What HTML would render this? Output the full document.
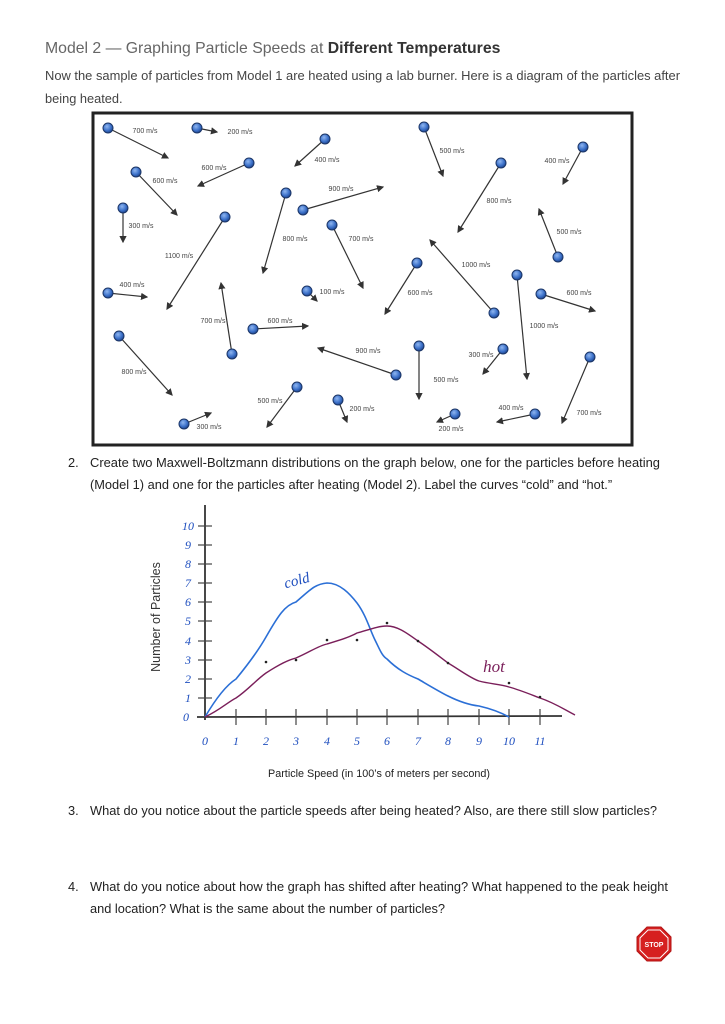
<!DOCTYPE html>
<html><head><meta charset="utf-8"><style>
body{margin:0;background:#fff;width:725px;height:1024px;overflow:hidden;font-family:"Liberation Sans",sans-serif;}
svg{position:absolute;left:0;top:0}
</style></head><body>
<svg width="725" height="1024" viewBox="0 0 725 1024" xmlns="http://www.w3.org/2000/svg" font-family="Liberation Sans, sans-serif">
<defs><marker id="ah" markerWidth="6" markerHeight="6" refX="5" refY="3" orient="auto"><path d="M0,0 L6,3 L0,6 z" fill="#333"/></marker>
<radialGradient id="ball" cx="0.4" cy="0.35" r="0.7"><stop offset="0" stop-color="#8fb6f0"/><stop offset="0.6" stop-color="#3a6fc8"/><stop offset="1" stop-color="#1b3d80"/></radialGradient></defs>
<text x="45" y="53" font-size="15.8" fill="#666">Model 2 — Graphing Particle Speeds at <tspan font-weight="bold" fill="#333">Different Temperatures</tspan></text>
<text x="45" y="80" font-size="12.8" fill="#444" textLength="635" lengthAdjust="spacingAndGlyphs">Now the sample of particles from Model 1 are heated using a lab burner. Here is a diagram of the particles after</text>
<text x="45" y="103" font-size="12.8" fill="#444">being heated.</text>
<rect x="93" y="113" width="539" height="332" fill="#fff" stroke="#222" stroke-width="3"/>
<g stroke="#333" stroke-width="1.2" marker-end="url(#ah)">
<line x1="108" y1="128" x2="168" y2="158"/><line x1="197" y1="128" x2="217" y2="132"/><line x1="325" y1="139" x2="295" y2="166"/><line x1="249" y1="163" x2="198" y2="186"/><line x1="136" y1="172" x2="177" y2="215"/><line x1="424" y1="127" x2="443" y2="176"/><line x1="583" y1="147" x2="563" y2="184"/><line x1="501" y1="163" x2="458" y2="232"/><line x1="123" y1="208" x2="123" y2="242"/><line x1="225" y1="217" x2="167" y2="309"/><line x1="286" y1="193" x2="263" y2="273"/><line x1="303" y1="210" x2="383" y2="187"/><line x1="332" y1="225" x2="363" y2="288"/><line x1="558" y1="257" x2="539" y2="209"/><line x1="494" y1="313" x2="430" y2="240"/><line x1="417" y1="263" x2="385" y2="314"/><line x1="108" y1="293" x2="147" y2="297"/><line x1="307" y1="291" x2="317" y2="301"/><line x1="517" y1="275" x2="527" y2="379"/><line x1="541" y1="294" x2="595" y2="311"/><line x1="232" y1="354" x2="221" y2="283"/><line x1="253" y1="329" x2="308" y2="326"/><line x1="119" y1="336" x2="172" y2="395"/><line x1="396" y1="375" x2="318" y2="348"/><line x1="419" y1="346" x2="419" y2="399"/><line x1="503" y1="349" x2="483" y2="374"/><line x1="590" y1="357" x2="562" y2="423"/><line x1="297" y1="387" x2="267" y2="427"/><line x1="338" y1="400" x2="347" y2="422"/><line x1="535" y1="414" x2="497" y2="422"/><line x1="455" y1="414" x2="437" y2="422"/><line x1="184" y1="424" x2="211" y2="413"/>
</g>
<g fill="url(#ball)" stroke="#1b3566" stroke-width="1">
<circle cx="108" cy="128" r="5"/><circle cx="197" cy="128" r="5"/><circle cx="325" cy="139" r="5"/><circle cx="249" cy="163" r="5"/><circle cx="136" cy="172" r="5"/><circle cx="424" cy="127" r="5"/><circle cx="583" cy="147" r="5"/><circle cx="501" cy="163" r="5"/><circle cx="123" cy="208" r="5"/><circle cx="225" cy="217" r="5"/><circle cx="286" cy="193" r="5"/><circle cx="303" cy="210" r="5"/><circle cx="332" cy="225" r="5"/><circle cx="558" cy="257" r="5"/><circle cx="494" cy="313" r="5"/><circle cx="417" cy="263" r="5"/><circle cx="108" cy="293" r="5"/><circle cx="307" cy="291" r="5"/><circle cx="517" cy="275" r="5"/><circle cx="541" cy="294" r="5"/><circle cx="232" cy="354" r="5"/><circle cx="253" cy="329" r="5"/><circle cx="119" cy="336" r="5"/><circle cx="396" cy="375" r="5"/><circle cx="419" cy="346" r="5"/><circle cx="503" cy="349" r="5"/><circle cx="590" cy="357" r="5"/><circle cx="297" cy="387" r="5"/><circle cx="338" cy="400" r="5"/><circle cx="535" cy="414" r="5"/><circle cx="455" cy="414" r="5"/><circle cx="184" cy="424" r="5"/>
</g>
<g font-size="7" fill="#444" text-anchor="middle">
<text x="145" y="133">700 m/s</text><text x="240" y="134">200 m/s</text><text x="327" y="162">400 m/s</text><text x="214" y="170">600 m/s</text><text x="165" y="183">600 m/s</text><text x="452" y="153">500 m/s</text><text x="557" y="163">400 m/s</text><text x="499" y="203">800 m/s</text><text x="141" y="228">300 m/s</text><text x="179" y="258">1100 m/s</text><text x="295" y="241">800 m/s</text><text x="341" y="191">900 m/s</text><text x="361" y="241">700 m/s</text><text x="569" y="234">500 m/s</text><text x="476" y="267">1000 m/s</text><text x="420" y="295">600 m/s</text><text x="132" y="287">400 m/s</text><text x="332" y="294">100 m/s</text><text x="544" y="328">1000 m/s</text><text x="579" y="295">600 m/s</text><text x="213" y="323">700 m/s</text><text x="280" y="323">600 m/s</text><text x="134" y="374">800 m/s</text><text x="368" y="353">900 m/s</text><text x="446" y="382">500 m/s</text><text x="481" y="357">300 m/s</text><text x="589" y="415">700 m/s</text><text x="270" y="403">500 m/s</text><text x="362" y="411">200 m/s</text><text x="511" y="410">400 m/s</text><text x="451" y="431">200 m/s</text><text x="209" y="429">300 m/s</text>
</g>
<text x="68" y="467" font-size="12.8" fill="#222">2.</text>
<text x="90" y="467" font-size="12.8" fill="#222" textLength="570" lengthAdjust="spacingAndGlyphs">Create two Maxwell-Boltzmann distributions on the graph below, one for the particles before heating</text>
<text x="90" y="489" font-size="12.8" fill="#222">(Model 1) and one for the particles after heating (Model 2). Label the curves “cold” and “hot.”</text>
<g stroke="#333" stroke-width="1.8"><line x1="205" y1="505" x2="205" y2="720"/><line x1="197" y1="717" x2="562" y2="716"/></g>
<g stroke="#444" stroke-width="1.2">
<line x1="236" y1="709" x2="236" y2="725"/><line x1="266" y1="709" x2="266" y2="725"/><line x1="296" y1="709" x2="296" y2="725"/><line x1="327" y1="709" x2="327" y2="725"/><line x1="357" y1="709" x2="357" y2="725"/><line x1="387" y1="709" x2="387" y2="725"/><line x1="418" y1="709" x2="418" y2="725"/><line x1="448" y1="709" x2="448" y2="725"/><line x1="479" y1="709" x2="479" y2="725"/><line x1="509" y1="709" x2="509" y2="725"/><line x1="540" y1="709" x2="540" y2="725"/>
<line x1="198" y1="698" x2="212" y2="698"/><line x1="198" y1="679" x2="212" y2="679"/><line x1="198" y1="660" x2="212" y2="660"/><line x1="198" y1="641" x2="212" y2="641"/><line x1="198" y1="621" x2="212" y2="621"/><line x1="198" y1="602" x2="212" y2="602"/><line x1="198" y1="583" x2="212" y2="583"/><line x1="198" y1="564" x2="212" y2="564"/><line x1="198" y1="545" x2="212" y2="545"/><line x1="198" y1="526" x2="212" y2="526"/>
</g>
<g font-size="12" fill="#1f4fbf" font-family="Liberation Serif, serif" font-style="italic" text-anchor="middle">
<text x="205" y="745">0</text><text x="236" y="745">1</text><text x="266" y="745">2</text><text x="296" y="745">3</text><text x="327" y="745">4</text><text x="357" y="745">5</text><text x="387" y="745">6</text><text x="418" y="745">7</text><text x="448" y="745">8</text><text x="479" y="745">9</text><text x="509" y="745">10</text><text x="540" y="745">11</text>
<text x="186" y="721">0</text><text x="188" y="702">1</text><text x="188" y="683">2</text><text x="188" y="664">3</text><text x="188" y="645">4</text><text x="188" y="625">5</text><text x="188" y="606">6</text><text x="188" y="587">7</text><text x="188" y="568">8</text><text x="188" y="549">9</text><text x="188" y="530">10</text>
<text x="298" y="585" font-size="15" transform="rotate(-15 298 585)">cold</text>
</g>
<text x="494" y="672" font-size="17" fill="#7a1f5a" font-family="Liberation Serif, serif" font-style="italic" text-anchor="middle">hot</text>
<path d="M205,717 C215,700 225,686 236,679 C250,662 258,651 266,637 C278,616 285,605 296,602 C310,590 315,584 327,583 C340,583 350,594 357,603 C366,615 370,630 375,640 C380,650 382,656 387,659 C398,670 408,675 418,679 C430,686 440,692 448,696 C460,702 470,705 479,706 C492,709 500,712 509,717" fill="none" stroke="#2b6fd6" stroke-width="1.6"/>
<path d="M205,717 C220,710 228,702 236,698 C248,690 256,680 266,673 C280,664 288,660 296,658 C310,652 318,646 327,644 C340,640 350,637 357,633 C368,630 378,626 387,626 C398,626 408,634 418,641 C430,649 440,657 448,663 C460,670 470,678 479,681 C490,684 500,684 509,687 C520,690 532,695 540,698 C555,703 565,710 575,715" fill="none" stroke="#7a1f5a" stroke-width="1.4"/>
<g fill="#222"><circle cx="266" cy="662" r="1.3"/><circle cx="296" cy="660" r="1.3"/><circle cx="327" cy="640" r="1.3"/><circle cx="357" cy="640" r="1.3"/><circle cx="387" cy="623" r="1.3"/><circle cx="418" cy="641" r="1.3"/><circle cx="448" cy="663" r="1.3"/><circle cx="509" cy="683" r="1.3"/><circle cx="540" cy="697" r="1.3"/></g>
<text x="160" y="617" font-size="12.5" fill="#333" text-anchor="middle" transform="rotate(-90 160 617)">Number of Particles</text>
<text x="379" y="777" font-size="11" fill="#222" text-anchor="middle" textLength="222" lengthAdjust="spacingAndGlyphs">Particle Speed (in 100’s of meters per second)</text>
<text x="68" y="815" font-size="12.8" fill="#222">3.</text>
<text x="90" y="815" font-size="12.8" fill="#222" textLength="567" lengthAdjust="spacingAndGlyphs">What do you notice about the particle speeds after being heated? Also, are there still slow particles?</text>
<text x="68" y="891" font-size="12.8" fill="#222">4.</text>
<text x="90" y="891" font-size="12.8" fill="#222" textLength="578" lengthAdjust="spacingAndGlyphs">What do you notice about how the graph has shifted after heating? What happened to the peak height</text>
<text x="90" y="913" font-size="12.8" fill="#222">and location? What is the same about the number of particles?</text>
<polygon points="647,927 661,927 671,937 671,951 661,961 647,961 637,951 637,937" fill="#d62020" stroke="#b31515"/>
<polygon points="648,930 660,930 668,938 668,950 660,958 648,958 640,950 640,938" fill="none" stroke="#fff" stroke-width="1"/>
<text x="654" y="947" font-size="7" font-weight="bold" fill="#fff" text-anchor="middle">STOP</text>
</svg>
</body></html>
